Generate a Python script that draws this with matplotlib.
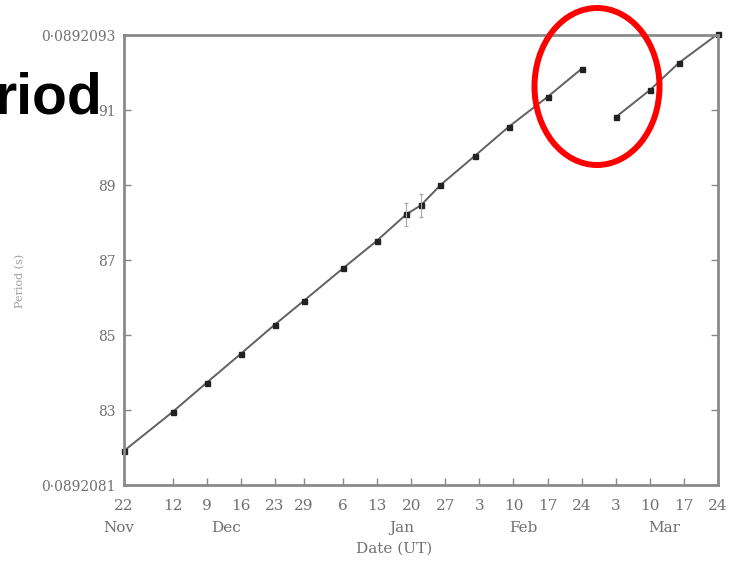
import datetime as dt
import matplotlib.pyplot as plt
import matplotlib.dates as mdates
from matplotlib.patches import Ellipse

# Period values in units of 1e-7 s above 0.0892 s
pre_dates = ["1968-11-22", "1968-12-02", "1968-12-09", "1968-12-16", "1968-12-23",
             "1968-12-29", "1969-01-06", "1969-01-13", "1969-01-19", "1969-01-22",
             "1969-01-26", "1969-02-02", "1969-02-09", "1969-02-17", "1969-02-24"]
pre_period = [81.91, 82.95, 83.73, 84.50, 85.28, 85.92, 86.78, 87.52, 88.22, 88.46,
              89.00, 89.77, 90.55, 91.35, 92.10]

post_dates = ["1969-03-03", "1969-03-10", "1969-03-16", "1969-03-24"]
post_period = [90.81, 91.53, 92.26, 93.03]

# the two points near Jan 20 carry small error bars
err_dates = ["1969-01-19", "1969-01-22"]
err_period = [88.22, 88.46]

tick_dates = ["1968-11-22", "1968-12-02", "1968-12-09", "1968-12-16", "1968-12-23",
              "1968-12-29", "1969-01-06", "1969-01-13", "1969-01-20", "1969-01-27",
              "1969-02-03", "1969-02-10", "1969-02-17", "1969-02-24", "1969-03-03",
              "1969-03-10", "1969-03-17", "1969-03-24"]
tick_labels = ["22", "12", "9", "16", "23", "29", "6", "13", "20", "27",
               "3", "10", "17", "24", "3", "10", "17", "24"]
month_labels = ["Nov", "Dec", "Jan", "Feb", "Mar"]
month_dates = ["1968-11-21", "1968-12-13", "1969-01-18", "1969-02-12", "1969-03-13"]

y_ticks = [81, 83, 85, 87, 89, 91, 93]
y_labels = ["0·0892081", "83", "85", "87", "89", "91", "0·0892093"]


def to_dt(s):
    return [dt.datetime.strptime(d, "%Y-%m-%d") for d in s]


grey = "#707070"
serif = ["DejaVu Serif"]

fig = plt.figure(figsize=(7.31, 5.62), dpi=100)
ax = fig.add_axes([0.1696, 0.137, 0.8126, 0.8007])

for d, p in [(pre_dates, pre_period), (post_dates, post_period)]:
    ax.plot(to_dt(d), p, color="#606060", lw=1.4,
            marker="s", ms=3.6, mfc="#222222", mec="#222222", clip_on=False)
ax.errorbar(to_dt(err_dates), err_period, yerr=0.3, fmt="none",
            ecolor="#aaaaaa", elinewidth=0.8, capsize=1.5)

ax.set_xlim(dt.datetime(1968, 11, 22), dt.datetime(1969, 3, 24))
ax.set_ylim(81, 93)

ax.set_xticks(mdates.date2num(to_dt(tick_dates)))
ax.set_xticklabels(tick_labels, fontsize=11, color=grey, family=serif)
ax.set_yticks(y_ticks)
ax.set_yticklabels(y_labels, fontsize=10, color=grey, family=serif)
ax.tick_params(axis="x", direction="in", length=5, width=1, color="#888888", pad=10)
ax.tick_params(axis="y", direction="in", length=5, width=1, color="#888888", pad=6,
               right=True)

for side in ["left", "bottom", "right", "top"]:
    ax.spines[side].set_color("#8a8a8a")
    ax.spines[side].set_linewidth(2)

# month names under the day numbers
for m, d in zip(month_labels, to_dt(month_dates)):
    ax.text(mdates.date2num(d), -0.096, m, transform=ax.get_xaxis_transform(),
            ha="center", va="center", fontsize=11, color=grey, family=serif)

ax.text(0.455, -0.142, "Date (UT)", transform=ax.transAxes, ha="center", va="center",
        fontsize=11, color=grey, family=serif)
fig.text(0.028, 0.5, "Period (s)", rotation=90, ha="center", va="center",
         fontsize=8, color="#a0a0a0", family=serif)

# slide overlay: cropped title and red circle around the glitch
fig.text(-0.008, 1 - 113 / 562, "riod", fontsize=41, fontweight="bold",
         family="Liberation Sans", color="black", va="baseline", ha="left")
fig.patches.append(Ellipse((597 / 731, 1 - 86.5 / 562), 125 / 731, 157 / 562,
                           transform=fig.transFigure, fill=False,
                           edgecolor="#ff0000", lw=4.3))

fig.savefig("out.png", dpi=100)
